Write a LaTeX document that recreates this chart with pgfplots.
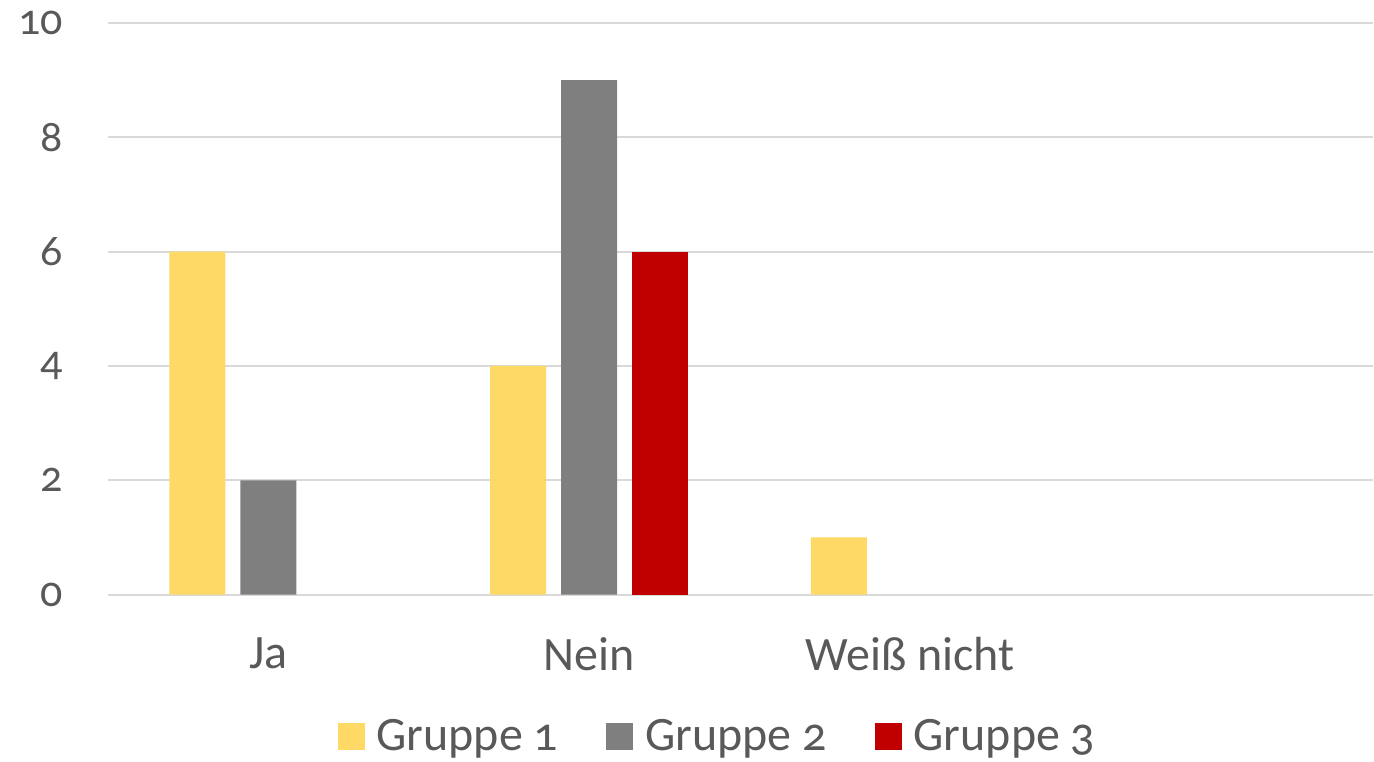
\documentclass[border=0pt]{standalone}
\usepackage{fontspec}
\setmainfont{Carlito}[Numbers=OldStyle]
\usepackage{pgfplots}
\pgfplotsset{compat=1.18}
\definecolor{gyellow}{HTML}{FFD966}
\definecolor{ggray}{HTML}{7F7F7F}
\definecolor{gred}{HTML}{C00000}
\definecolor{txt}{HTML}{595959}
\definecolor{gridc}{HTML}{D9D9D9}
\begin{document}
\begin{tikzpicture}
\begin{axis}[
  at={(0,0)}, anchor=south west,
  scale only axis,
  width=633pt, height=286pt,
  xmin=-0.5, xmax=3.444,
  ymin=0, ymax=10,
  ytick={0,2,4,6,8,10},
  xtick={0,1,2},
  xticklabels={Ja,Nein,Weiß nicht},
  ybar=7.5pt,
  bar width=0.1745,
  axis line style={draw=none},
  major tick length=0pt,
  xmajorgrids=false,
  ymajorgrids=true,
  grid style={draw=gridc, line width=1pt},
  every tick label/.append style={text=txt},
  /pgf/number format/assume math mode=true,
  yticklabel style={font=\fontsize{22}{26}\selectfont, xshift=-19pt},
  xticklabel style={font=\fontsize{24}{28}\selectfont, yshift=-18pt},
  legend style={at={(0.4826,-0.248)}, anchor=center, draw=none,
    legend columns=3, text=txt, font=\fontsize{24}{28}\selectfont,
    /tikz/every even column/.append style={column sep=22pt},
    /tikz/every odd column/.append style={column sep=4pt},
    legend cell align=left},
  legend image code/.code={\fill[#1] (0pt,-6.75pt) rectangle (13.5pt,6.75pt);},
]
\addplot[fill=gyellow, draw=none] coordinates {(0,6) (1,4) (2,1)};
\addplot[fill=ggray, draw=none] coordinates {(0,2) (1,9)};
\addplot[fill=gred, draw=none] coordinates {(1,6)};
\legend{Gruppe 1, Gruppe 2, Gruppe 3}
\end{axis}
\path[use as bounding box] (-54pt,-83.5pt) rectangle (633pt,297.5pt);
\end{tikzpicture}
\end{document}
